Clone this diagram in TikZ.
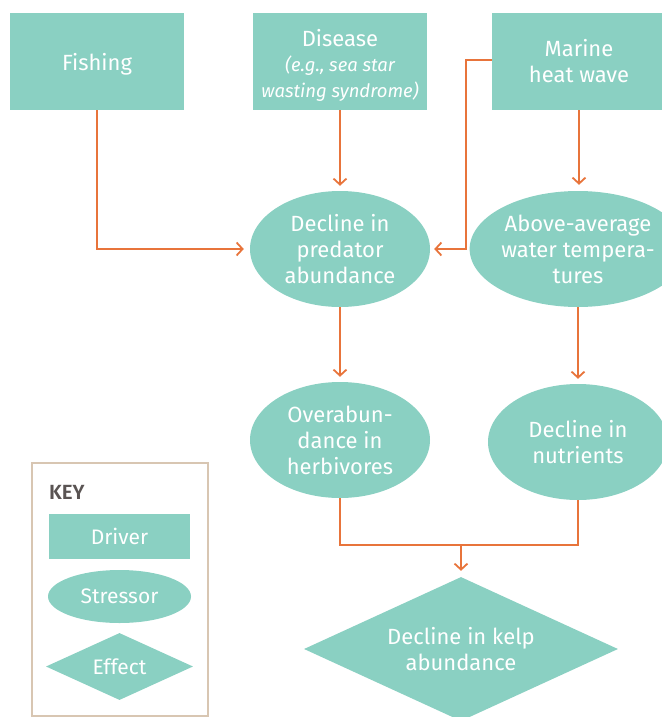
\documentclass[tikz,border=0pt]{standalone}
\usepackage{fontspec}
\setmainfont{Fira Sans}[BoldFont=* SemiBold]
\usetikzlibrary{shapes.geometric,arrows.meta}
\definecolor{kteal}{HTML}{8AD0C2}
\definecolor{korange}{HTML}{E8743B}
\definecolor{ktan}{HTML}{D8C6B2}
\definecolor{kgray}{HTML}{5A5453}
\begin{document}
\begin{tikzpicture}[x=1pt,y=-1pt,
  txt/.style={text=white, align=center, inner sep=0pt, font=\fontsize{22}{26}\selectfont},
  drv/.style={txt, rectangle, fill=kteal, minimum width=174pt, minimum height=97pt},
  strs/.style={txt, ellipse, fill=kteal, minimum width=180pt, minimum height=116pt},
  eff/.style={txt, diamond, aspect=2.2, fill=kteal, minimum width=314pt, minimum height=144pt},
  link/.style={draw=korange, line width=1.8pt},
  arr/.style={link, -{Straight Barb[length=6pt,width=13pt,line width=1.8pt]}},
  keytxt/.style={font=\fontsize{21}{24}\selectfont}
]
\useasboundingbox (0,0) rectangle (661,717);
% drivers
\node[drv] (fish) at (97,61.5) {\rule{0pt}{22pt}Fishing};
\node[drv] (dis) at (340,61.5) {\rule{0pt}{25pt}Disease\\[-1pt]{\fontsize{18.5}{23}\selectfont\itshape (e.g., sea star}\\{\fontsize{18.5}{23}\selectfont\itshape wasting syndrome)}};
\node[drv] (heat) at (579,61.5) {Marine\\heat wave};
% stressors
\node[strs] (pred) at (340,249) {Decline in\\predator\\abundance};
\node[strs] (temp) at (578,249) {Above-average\\water tempera-\\tures};
\node[strs] (over) at (340,440) {Overabun-\\dance in\\herbivores};
\node[strs] (nut) at (578,442) {Decline in\\nutrients};
% effect
\node[eff] (kelp) at (461,649) {Decline in kelp\\abundance};
% connectors
\draw[arr] (fish.south) |- ([xshift=-6pt]pred.west);
\draw[arr,shorten >=5pt] (dis.south) -- (pred.north);
\draw[arr,shorten >=4pt] ([yshift=1.5pt]heat.west) -- ++(-26,0) |- (pred.east);
\draw[arr,shorten >=6pt] (heat.south) -- (heat.south |- temp.north);
\draw[arr,shorten >=5pt] (pred.south) -- (over.north);
\draw[arr,shorten >=5pt] (temp.south) -- (temp.south |- nut.north);
\coordinate (j) at (461,545);
\draw[link] (over.south) |- (j) -| (nut.south);
\draw[arr,shorten >=6pt] (j) -- (kelp.north);
% key
\node[draw=ktan, line width=2pt, rectangle, minimum width=176pt, minimum height=253pt, inner sep=0pt] (keybox) at (120,589.5) {};
\node[anchor=west, inner sep=0pt, text=kgray, font=\fontsize{20.5}{22}\selectfont\bfseries] (keylbl) at (49,492) {KEY};
\node[txt, keytxt, rectangle, fill=kteal, minimum width=141pt, minimum height=45pt] (kdrv) at (119.5,536.5) {Driver};
\node[txt, keytxt, ellipse, fill=kteal, minimum width=143pt, minimum height=53pt] (kstr) at (119.5,596.5) {Stressor};
\node[txt, keytxt, diamond, aspect=2.2, fill=kteal, minimum width=147pt, minimum height=67pt] (keff) at (119.5,666.5) {Effect};
\end{tikzpicture}
\end{document}
